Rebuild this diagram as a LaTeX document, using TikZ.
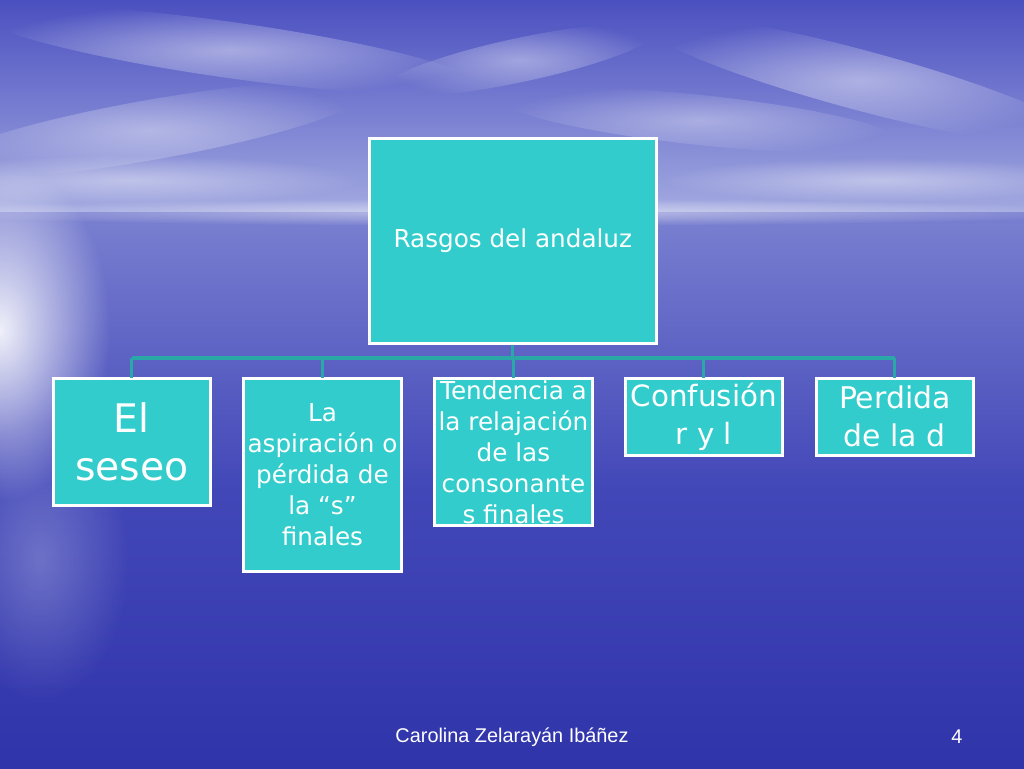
\documentclass[tikz,border=0pt]{standalone}
\usepackage{fontspec}
\setmainfont{DejaVu Sans}
\newfontfamily\footfont{Liberation Sans}
\usetikzlibrary{fadings}

\definecolor{boxteal}{HTML}{33CCCC}
\definecolor{linkteal}{HTML}{2AA8A8}
\definecolor{deepblue}{HTML}{3034AA}
\definecolor{midsea}{HTML}{4247B8}
\definecolor{seatop}{HTML}{7A80D0}
\definecolor{skyblue}{HTML}{4B50C0}
\definecolor{haze}{HTML}{A2A9E0}

\tikzfading[name=glow, inner color=transparent!0, outer color=transparent!100]

\tikzset{
  topic/.style={draw=white, line width=2.2pt, fill=boxteal, text=white,
    align=center, inner sep=0pt},
  link/.style={draw=linkteal, line width=2.4pt},
  cloud puff/.style={white, opacity=#1, path fading=glow},
}

\begin{document}
\begin{tikzpicture}[x=0.75pt, y=-0.75pt]
\useasboundingbox (0,0) rectangle (1024,768);
% background: sky and sea
\shade[top color=skyblue, bottom color=haze] (0,0) rectangle (1024,212);
\shade[top color=seatop, bottom color=deepblue, middle color=midsea] (0,212) rectangle (1024,768);
\fill[cloud puff=0.5] (512,212) ellipse (600 and 14);
\fill[cloud puff=0.9] (0,330) ellipse (110 and 170);
\fill[cloud puff=0.25] (40,560) ellipse (90 and 140);
% clouds
\fill[cloud puff=0.45, rotate around={-8:(230,50)}] (230,50) ellipse (250 and 28);
\fill[cloud puff=0.4, rotate around={12:(520,60)}] (520,60) ellipse (140 and 22);
\fill[cloud puff=0.45, rotate around={-15:(860,80)}] (860,80) ellipse (230 and 30);
\fill[cloud puff=0.4, rotate around={10:(150,130)}] (150,130) ellipse (220 and 30);
\fill[cloud puff=0.35, rotate around={-6:(700,120)}] (700,120) ellipse (200 and 25);
\fill[cloud puff=0.4] (880,180) ellipse (220 and 22);
\fill[cloud puff=0.4] (130,180) ellipse (230 and 25);

% tree
\node[topic, minimum width=215pt, minimum height=154pt, anchor=north west,
  font=\fontsize{18.5}{22}\selectfont] (root) at (368,137) {Rasgos del andaluz};

\node[topic, minimum width=117.5pt, minimum height=95pt, anchor=north west,
  font=\fontsize{29.5}{35.5}\selectfont] (seseo) at (52,377) {El\\seseo};
\node[topic, minimum width=118.5pt, minimum height=144.5pt, anchor=north west,
  font=\fontsize{18.5}{23.25}\selectfont] (aspir) at (242,377) {La\\aspiración o\\pérdida de\\la “s”\\finales};
\node[topic, minimum width=118.5pt, minimum height=110pt, anchor=north west,
  font=\fontsize{18.5}{23.25}\selectfont] (relaj) at (433,377) {Tendencia a\\la relajación\\de las\\consonante\\s finales};
\node[topic, minimum width=117.5pt, minimum height=57.5pt, anchor=north west,
  font=\fontsize{22}{28.5}\selectfont] (confus) at (624,377) {Confusión\\r y l};
\node[topic, minimum width=117.5pt, minimum height=57.5pt, anchor=north west,
  font=\fontsize{22.4}{28.5}\selectfont] (perd) at (815,377) {Perdida\\de la d};

\coordinate (bar) at (0,358);
\draw[link] (root.south) -- (root.south |- bar);
\draw[link] (seseo.north |- bar) -- (perd.north |- bar);
\foreach \k in {seseo,aspir,relaj,confus,perd}
  \draw[link] (\k.north |- bar) -- ([yshift=-1.1pt]\k.north);

% footer
\node[text=white, font=\footfont\fontsize{14.9}{17}\selectfont] (author) at (512,737) {Carolina Zelarayán Ibáñez};
\node[text=white, font=\footfont\fontsize{14.9}{17}\selectfont] (page) at (957,737) {4};
\end{tikzpicture}
\end{document}
